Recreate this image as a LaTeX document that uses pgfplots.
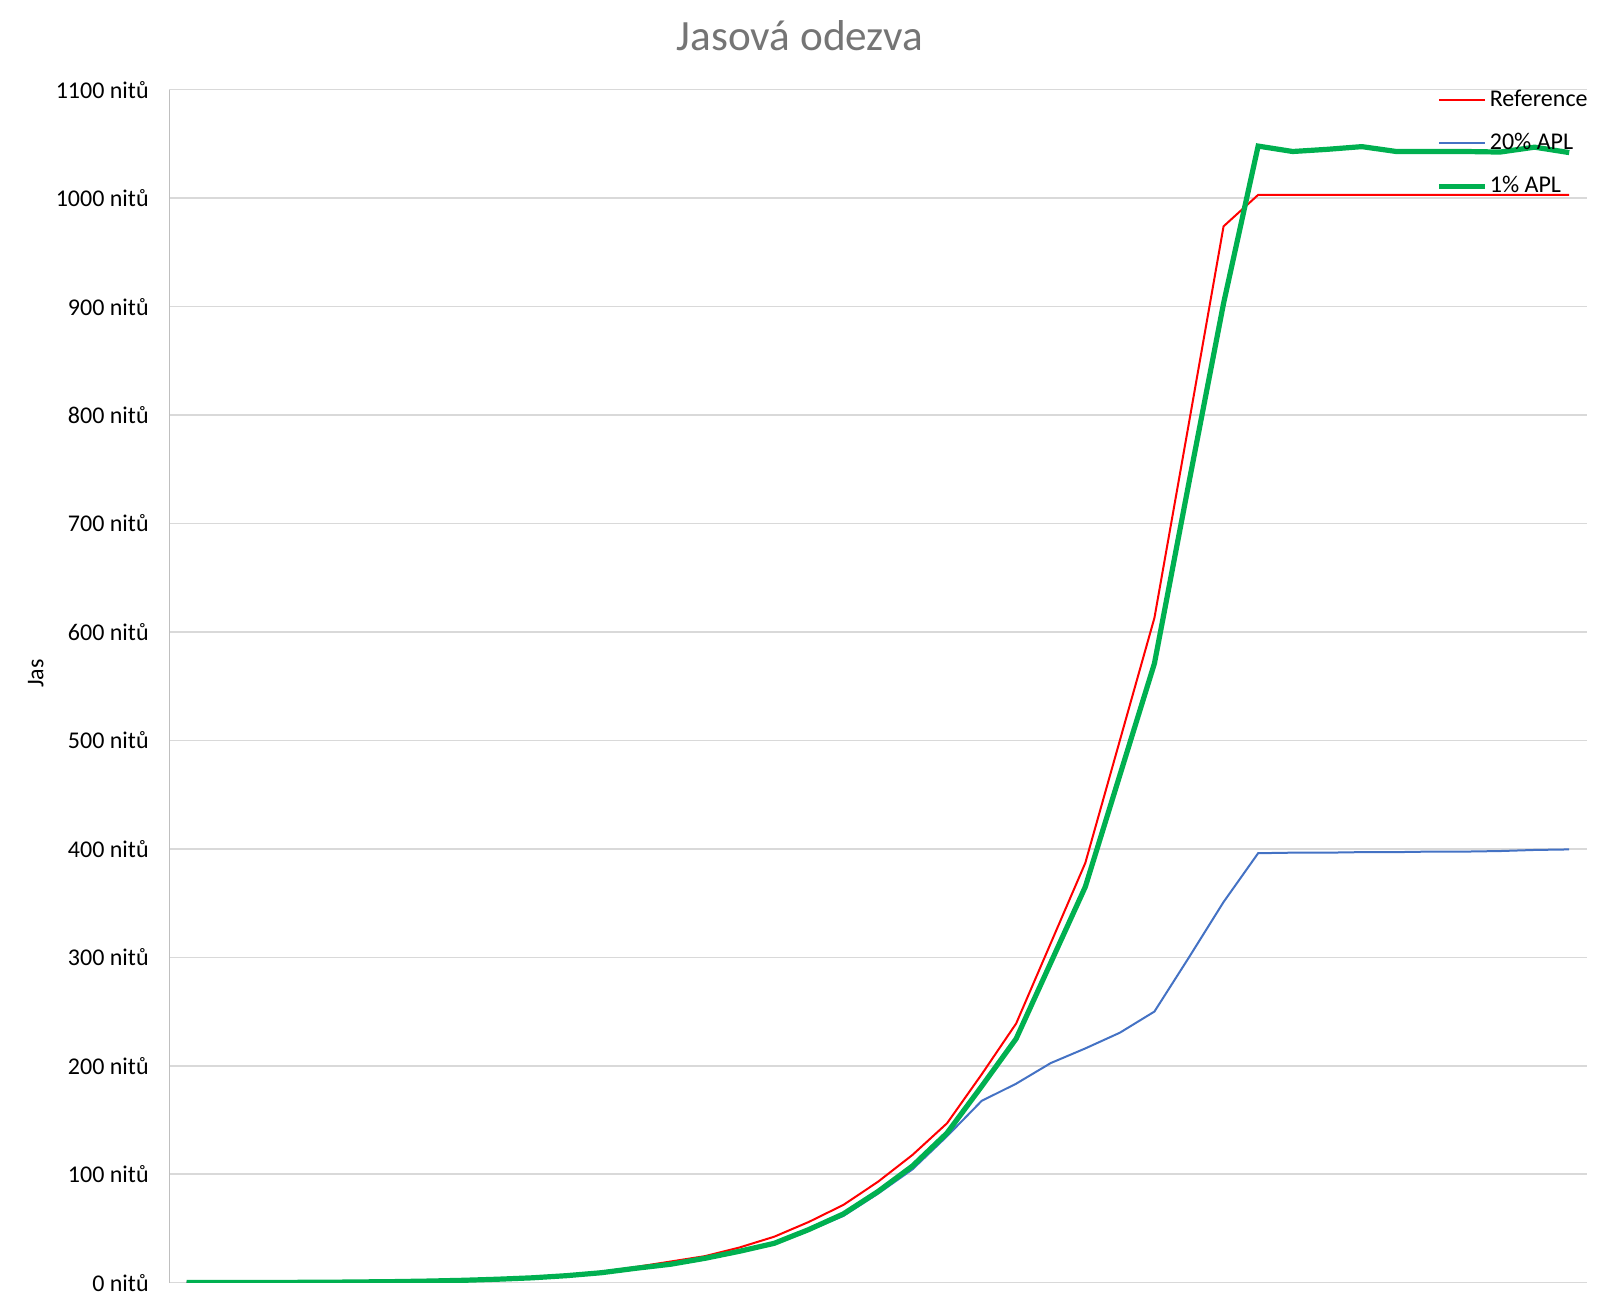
\documentclass[border=0pt]{standalone}
\usepackage{pgfplots}
\pgfplotsset{compat=1.18}
\usepackage{pgfplotstable}
\usepackage{fontspec}
\setmainfont{Carlito}
\definecolor{refred}{HTML}{FF0000}
\definecolor{aplblue}{HTML}{4472C4}
\definecolor{aplgreen}{HTML}{00B050}
\definecolor{gridgray}{HTML}{D9D9D9}
\definecolor{axisgray}{HTML}{BFBFBF}
\definecolor{titlegray}{HTML}{757575}
\pgfplotstableread{
i ref apl20 apl1
0 0 0.3 0.3
1 0 0.3 0.3
2 0.1 0.3 0.3
3 0.2 0.3 0.3
4 0.4 0.4 0.4
5 0.7 0.7 0.7
6 1.1 1.0 1.0
7 1.7 1.5 1.5
8 2.5 2.2 2.2
9 3.6 3.2 3.2
10 5.0 4.5 4.5
11 7.0 6.3 6.5
12 10 9 9.2
13 14.5 13 13.3
14 19.5 17 17
15 24.5 22 22.5
16 32.5 28.5 29
17 42.4 35.5 36.3
18 56 48 49
19 71.7 61.5 63.4
20 93 82 84
21 117.8 104.5 107.6
22 147 135 138
23 192 167.6 181
24 239 183.5 225
25 313 202.5 295
26 387 216 365
27 500 230.5 468
28 613 250 571
29 793 300 738
30 974 351 903
31 1003 396 1048
32 1003 396.5 1043
33 1003 396.5 1045
34 1003 397 1047.5
35 1003 397 1043
36 1003 397.5 1043
37 1003 397.5 1043
38 1003 398 1042.5
39 1003 399 1047
40 1003 399.5 1042
}\datatable
\begin{document}
\begin{tikzpicture}
\useasboundingbox (-84.65pt,-8.65pt) rectangle (715.35pt,641.35pt);
\begin{axis}[
  at={(0,0)}, anchor=south west,
  scale only axis,
  width=708.6pt, height=596.5pt,
  xmin=-0.5, xmax=40.5,
  ymin=0, ymax=1100,
  xtick=\empty,
  ytick={0,100,...,1100},
  yticklabels={0 nitů,100 nitů,200 nitů,300 nitů,400 nitů,500 nitů,600 nitů,700 nitů,800 nitů,900 nitů,1000 nitů,1100 nitů},
  yticklabel style={font=\fontsize{12}{14}\selectfont, text=black, anchor=east, xshift=-6.8pt},
  major tick length=0pt,
  ymajorgrids,
  grid style={draw=gridgray, line width=0.75pt},
  axis x line*=bottom, axis y line*=left,
  x axis line style={-, draw=gridgray, line width=0.75pt},
  y axis line style={-, draw=axisgray, line width=0.75pt},
  ylabel={Jas},
  ylabel style={at={(axis description cs:-0.0943,0.5107)}, anchor=center, font=\fontsize{12}{14}\selectfont},
  legend style={draw=none, fill=none, at={(axis description cs:0.8937,1.002)}, anchor=north west,
    font=\fontsize{12}{14}\selectfont, row sep=9.5pt, inner sep=0pt,
    nodes={inner sep=1.2pt}},
  legend cell align=left,
  legend image code/.code={\draw[#1] (0pt,0pt) -- (23pt,0pt);},
]
\addplot[refred, line width=1pt] table[x=i, y=ref] {\datatable};
\addlegendentry{Reference}
\addplot[aplblue, line width=1pt] table[x=i, y=apl20] {\datatable};
\addlegendentry{20\% APL}
\addplot[aplgreen, line width=2.6pt] table[x=i, y=apl1] {\datatable};
\addlegendentry{1\% APL}
\end{axis}
\node[font=\fontsize{21.6}{26}\selectfont, text=titlegray] at (315.35pt,623.5pt) {Jasová odezva};
\end{tikzpicture}
\end{document}
